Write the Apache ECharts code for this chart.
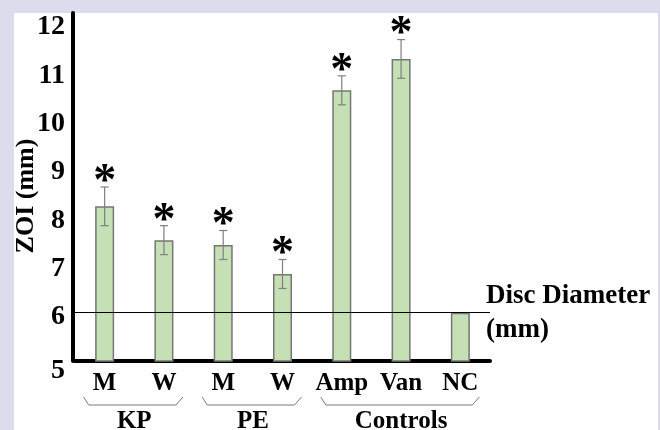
<!DOCTYPE html>
<html>
<head>
<meta charset="utf-8">
<script src="https://cdn.jsdelivr.net/npm/echarts@6/dist/echarts.min.js"></script>
<style>
html,body{margin:0;padding:0;background:#dddcec;}
#panel{position:absolute;left:14px;top:13px;width:644px;height:417px;background:#fff;}
#chart{position:absolute;left:0;top:0;width:660px;height:430px;}
</style>
</head>
<body>
<div id="panel"></div>
<div id="chart"></div>
<script>
// ---- data ----
var categories = ['M', 'W', 'M', 'W', 'Amp', 'Van', 'NC'];
var zoiMeans   = [8.2, 7.5, 7.4, 6.8, 10.6, 11.25, 6.0];
var zoiErrors  = [0.4, 0.3, 0.3, 0.3, 0.3, 0.4, 0];
var sigMarks   = ['*', '*', '*', '*', '*', '*', ''];
var groupNames = ['KP', 'PE', 'Controls'];
var groupStart = [0, 2, 4];
var groupEnd   = [1, 3, 6];
var discDiameter = 6;
var yTicks = [5, 6, 7, 8, 9, 10, 11, 12];
var yTitle = 'ZOI (mm)';
var discLabel = 'Disc Diameter\n(mm)';

var FONT = '"Liberation Serif", "Times New Roman", serif';
var chart = echarts.init(document.getElementById('chart'), null, {renderer: 'canvas'});

var errData = categories.map(function (c, i) { return [i, zoiMeans[i], zoiErrors[i]]; });

var option = {
  animation: false,
  backgroundColor: 'transparent',
  grid: {left: 75, right: 170, top: 13, bottom: 69},
  xAxis: {
    type: 'category',
    data: categories,
    axisLine: {lineStyle: {color: '#000', width: 4}},
    axisTick: {show: false},
    axisLabel: {interval: 0, fontFamily: FONT, fontWeight: 'bold', fontSize: 25, color: '#000', margin: 10}
  },
  yAxis: {
    type: 'value',
    min: yTicks[0],
    max: 12.2,
    interval: 1,
    offset: 2,
    splitLine: {show: false},
    axisLine: {show: true, lineStyle: {color: '#000', width: 4}},
    axisTick: {show: false},
    axisLabel: {
      fontFamily: FONT, fontWeight: 'bold', fontSize: 28, color: '#000', margin: 8,
      showMaxLabel: false, padding: [9, 0, 0, 0],
      rich: {low: {fontFamily: FONT, fontWeight: 'bold', fontSize: 28, color: '#000', padding: [10, 0, 0, 0]}},
      formatter: function (v) {
        if (yTicks.indexOf(v) < 0) return '';
        return v === yTicks[0] ? '{low|' + v + '}' : String(v);
      }
    }
  },
  series: [
    {
      type: 'bar',
      data: zoiMeans,
      barWidth: 19,
      itemStyle: {color: '#c5e0b4', borderColor: '#767676', borderWidth: 1.5},
      silent: true,
      markLine: {
        silent: true,
        symbol: 'none',
        lineStyle: {color: '#000', width: 1, type: 'solid'},
        label: {
          show: true, position: 'end', distance: -4,
          formatter: discLabel,
          fontFamily: FONT, fontWeight: 'bold', fontSize: 27, color: '#000',
          lineHeight: 34, align: 'left'
        },
        data: [{yAxis: discDiameter}]
      },
      z: 2
    },
    {
      type: 'custom',
      data: errData,
      silent: true,
      z: 5,
      renderItem: function (params, api) {
        var i = api.value(0), m = api.value(1), e = api.value(2);
        var mark = sigMarks[i];
        var top = api.coord([i, m + e]);
        var bot = api.coord([i, m - e]);
        var cap = 4;
        var children = [];
        if (e > 0) {
          var st = {stroke: '#7f7f7f', lineWidth: 1.2};
          children.push({type: 'line', shape: {x1: top[0], y1: top[1], x2: bot[0], y2: bot[1]}, style: st});
          children.push({type: 'line', shape: {x1: top[0] - cap, y1: top[1], x2: top[0] + cap, y2: top[1]}, style: st});
          children.push({type: 'line', shape: {x1: bot[0] - cap, y1: bot[1], x2: bot[0] + cap, y2: bot[1]}, style: st});
        }
        if (mark) {
          children.push({type: 'text', style: {
            text: mark, x: top[0], y: top[1] - 4,
            textAlign: 'center', textVerticalAlign: 'middle',
            font: 'bold 46px ' + FONT, fill: '#000'
          }});
        }
        return {type: 'group', children: children};
      }
    }
  ]
};
chart.setOption(option);

// y-axis title, group brackets and labels under the category axis
var gfx = [{
  type: 'text', silent: true, x: 26, y: 196, rotation: Math.PI / 2,
  style: {text: yTitle, textAlign: 'center', textVerticalAlign: 'middle', font: 'bold 26px ' + FONT, fill: '#000'}
}];
for (var g = 0; g < groupNames.length; g++) {
  var a = chart.convertToPixel({xAxisIndex: 0}, groupStart[g]);
  var b = chart.convertToPixel({xAxisIndex: 0}, groupEnd[g]);
  var x1 = a - 21, x2 = b + 19;
  var yb = 405;
  gfx.push({type: 'polyline', silent: true, shape: {points: [[x1, yb - 8], [x1 + 5, yb], [x2 - 7, yb], [x2, yb - 8]]},
    style: {stroke: '#7a7a7a', lineWidth: 1, fill: null}});
  gfx.push({type: 'text', silent: true, style: {
    text: groupNames[g], x: (a + b) / 2, y: 422, textAlign: 'center', textVerticalAlign: 'middle',
    font: 'bold 25px ' + FONT, fill: '#000'}});
}
chart.setOption({graphic: gfx});
</script>
</body>
</html>
